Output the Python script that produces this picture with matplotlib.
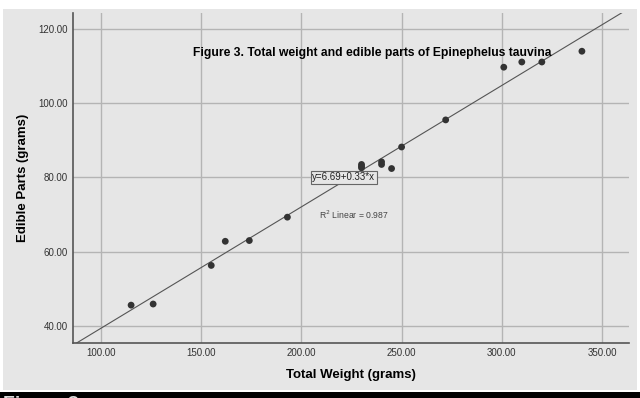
import numpy as np
import matplotlib
matplotlib.use('Agg')
import matplotlib.pyplot as plt
from matplotlib.patches import Rectangle

# total weight vs edible parts (grams)
total_weight = [115, 126, 155, 162, 174, 193,
                230, 230, 230, 240, 240, 245,
                250, 272, 301, 310, 320, 340]
edible_parts = [45.6, 45.9, 56.3, 62.8, 63.0, 69.3,
                83.5, 83.0, 82.6, 84.2, 83.5, 82.4,
                88.2, 95.5, 109.7, 111.1, 111.1, 114.0]

x_ticks = [100, 150, 200, 250, 300, 350]
y_ticks = [40, 60, 80, 100, 120]

plt.rcParams['font.family'] = ['Liberation Sans', 'DejaVu Sans']

fig = plt.figure(figsize=(6.4, 3.98), dpi=100)
fig.patch.set_facecolor('white')
# grey SPSS panel and the black strip at the bottom
fig.add_artist(Rectangle((3 / 640, 8 / 398), 634 / 640, 381 / 398,
                         transform=fig.transFigure, facecolor='#e6e6e6',
                         edgecolor='none', zorder=-10))
fig.add_artist(Rectangle((0, 0), 1, 6 / 398, transform=fig.transFigure,
                         facecolor='black', edgecolor='none', zorder=-10))
fig.text(0.005, -0.017, 'Figure 3', color='#dddddd', fontsize=14,
         fontweight='bold', va='center', ha='left', zorder=-5)

ax = fig.add_axes([73 / 640, 55 / 398, 556 / 640, 330 / 398])
ax.set_facecolor('#e6e6e6')

ax.set_xlim(86, 363.5)
ax.set_ylim(35.4, 124.3)
ax.set_xticks(x_ticks)
ax.set_yticks(y_ticks)
ax.set_xticklabels(['%.2f' % v for v in x_ticks])
ax.set_yticklabels(['%.2f' % v for v in y_ticks])
ax.tick_params(length=0, labelsize=7, colors='#333333', pad=3.5)
ax.grid(True, color='#b4b4b4', linewidth=1)
ax.set_axisbelow(True)
for s in ['top', 'right']:
    ax.spines[s].set_visible(False)
ax.spines['left'].set_color('#555555')
ax.spines['left'].set_linewidth(1.2)
ax.spines['bottom'].set_color('#555555')
ax.spines['bottom'].set_linewidth(1.2)

# fit line
b, a = np.polyfit(total_weight, edible_parts, 1)
xs = np.array([80, 370])
ax.plot(xs, a + b * xs, color='#555555', linewidth=0.8, zorder=2)

ax.scatter(total_weight, edible_parts, s=24, color='#333333', zorder=3,
           edgecolors='none')

ax.text(146, 113.5, 'Figure 3. Total weight and edible parts of Epinephelus tauvina',
        fontsize=8.75, fontweight='bold', ha='left', va='center', color='black')
ax.text(205.5, 80.0, 'y=6.69+0.33*x', fontsize=7, ha='left', va='center',
        color='#222222',
        bbox=dict(boxstyle='square,pad=0.15', facecolor='#e6e6e6',
                  edgecolor='#666666', linewidth=0.8), zorder=4)
ax.text(209, 70.0, 'R$^2$ Linear = 0.987', fontsize=6.2, ha='left', va='center',
        color='#444444')

ax.set_xlabel('Total Weight (grams)', fontsize=9.5, fontweight='bold', labelpad=8)
ax.set_ylabel('Edible Parts (grams)', fontsize=9.5, fontweight='bold', labelpad=7)

fig.savefig('out.png', dpi=100, facecolor=fig.get_facecolor())
